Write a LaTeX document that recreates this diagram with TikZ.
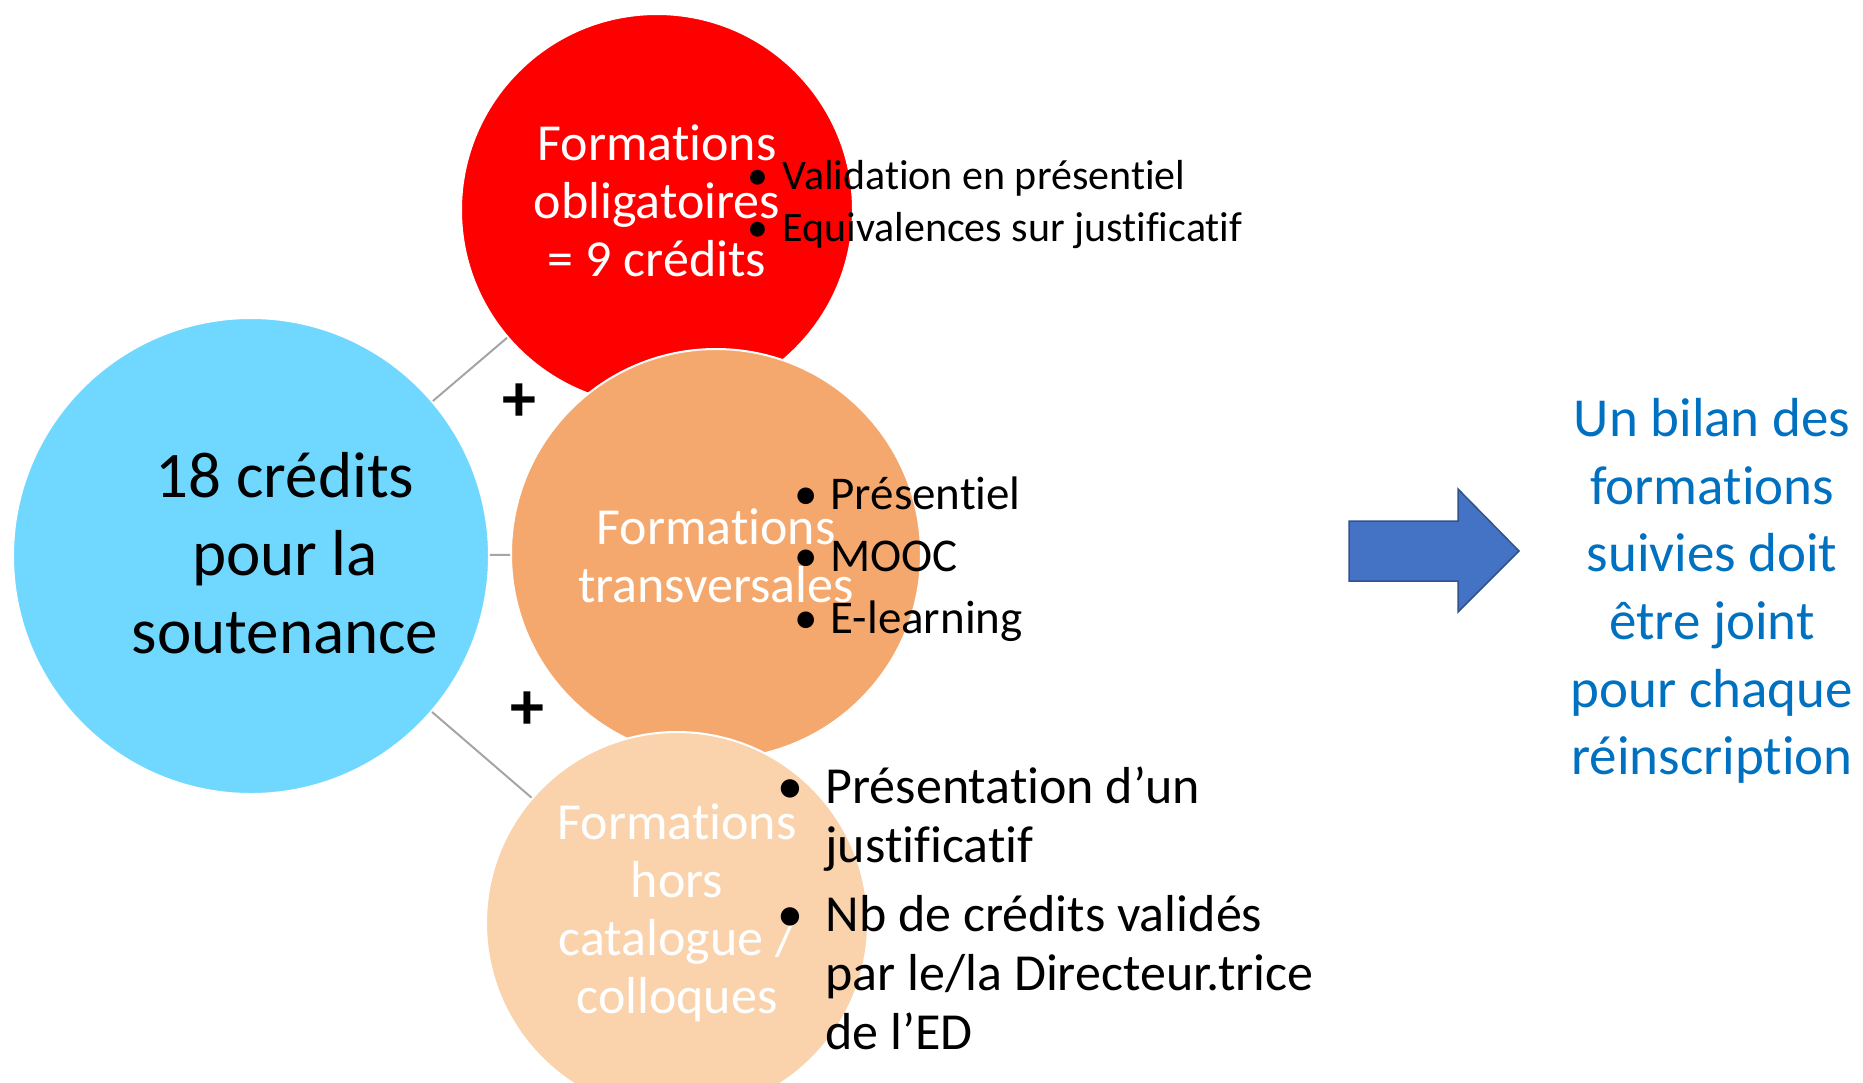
\documentclass[tikz,border=0pt]{standalone}
\usepackage{fontspec}
\setmainfont{Carlito}[Ligatures={NoCommon,NoContextual}]
\definecolor{cblue}{HTML}{70D8FF}
\definecolor{cred}{HTML}{FF0000}
\definecolor{corange}{HTML}{F5A86D}
\definecolor{cpeach}{HTML}{FAD3AD}
\definecolor{cline}{HTML}{A5A5A5}
\definecolor{carrow}{HTML}{4472C4}
\definecolor{carrowd}{HTML}{2F528F}
\definecolor{ctext}{HTML}{0070C0}
\tikzset{
  bubble/.style={circle, inner sep=0pt, draw=white, line width=2pt},
  conn/.style={draw=cline, line width=2pt},
  ctitle/.style={align=center, text=white, font=\fontsize{52}{58}\selectfont},
  plus/.style={font=\fontsize{68}{68}\selectfont\bfseries},
}
\newcommand{\bul}[1]{\makebox[#1][l]{•}}
\begin{document}
\begin{tikzpicture}[x=1pt,y=-1pt]
\useasboundingbox (0,0) rectangle (1863,1082);
\clip (0,0) rectangle (1863,1082);
% circles
\node[bubble, fill=cblue, minimum size=476pt] (blue) at (251,556) {};
\node[bubble, fill=cred, minimum size=392pt] (red) at (657,210) {};
\node[bubble, fill=corange, minimum size=410pt] (orange) at (716,554) {};
\node[bubble, fill=cpeach, minimum size=382pt] (peach) at (677,923) {};
% connectors
\draw[conn] (blue) -- (red);
\draw[conn] (blue) -- (orange);
\draw[conn] (blue) -- (peach);
% plus signs
\node[plus] (p1) at (519,403) {+};
\node[plus] (p2) at (527,711) {+};
% texts in circles
\node[align=center, font=\fontsize{65}{78}\selectfont] (tblue) at (285,553) {18 crédits\\pour la\\soutenance};
\node[ctitle] (tred) at (657,201) {Formations\\obligatoires\\= 9 crédits};
\node[ctitle] (torange) at (716,556) {Formations\\transversales};
\node[ctitle] (tpeach) at (677,913) {Formations\\hors\\catalogue /\\colloques};
% bullet lists
\node[anchor=west, align=left, font=\fontsize{42}{52}\selectfont] (lred) at (744,205)
  {\bul{35pt}Validation en présentiel\\\bul{35pt}Equivalences sur justificatif};
\node[anchor=west, align=left, font=\fontsize{47}{62}\selectfont] (lorange) at (791,559)
  {\bul{36pt}Présentiel\\\bul{36pt}MOOC\\\bul{36pt}E-learning};
\node[anchor=west, align=left, font=\fontsize{52}{59}\selectfont] (lpeach) at (774,908)
  {\bul{48pt}Présentation d’un\\\hspace*{48pt}justificatif\\[10pt]\bul{48pt}Nb de crédits validés\\\hspace*{48pt}par le/la Directeur.trice\\\hspace*{48pt}de l’ED};
% arrow
\draw[fill=carrow, draw=carrowd, line width=1.5pt, line join=miter]
  (1349,521) -- (1458,521) -- (1458,489) -- (1519,551) -- (1458,612) -- (1458,581) -- (1349,581) -- cycle;
% right text
\node[align=center, text=ctext, font=\fontsize{55}{67.6}\selectfont] (tright) at (1712,591)
  {Un bilan des\\formations\\suivies doit\\être joint\\pour chaque\\réinscription};
\end{tikzpicture}
\end{document}
